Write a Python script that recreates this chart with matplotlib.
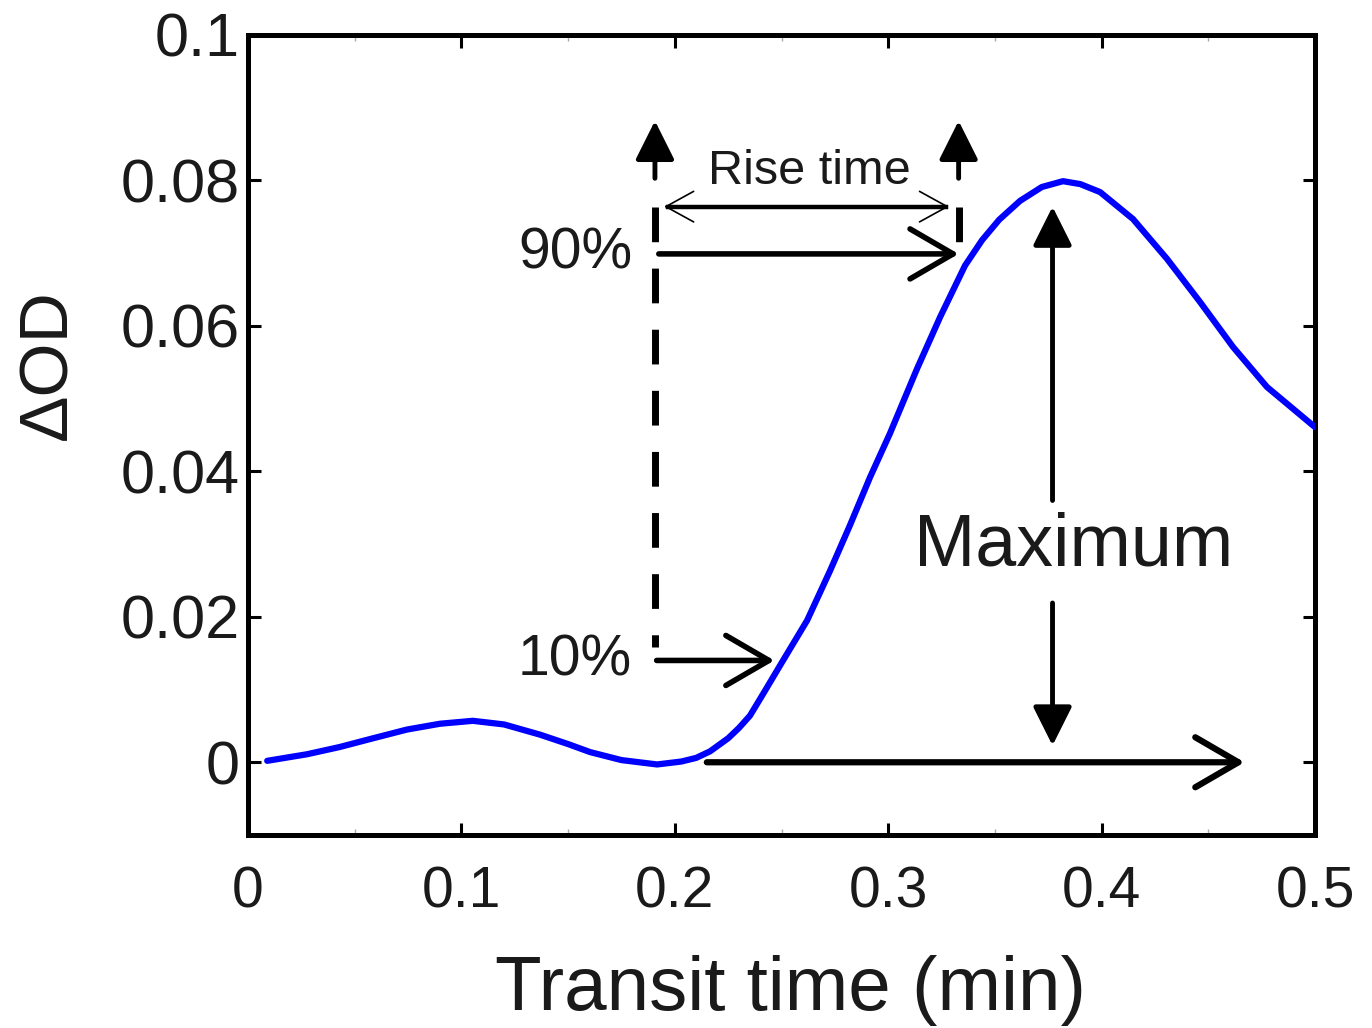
import numpy as np
import matplotlib
matplotlib.use("Agg")
import matplotlib.pyplot as plt

plt.rcParams['font.family'] = ['Liberation Sans', 'DejaVu Sans']

# curve
transit_time = [0.009, 0.0276, 0.043, 0.0586, 0.0745, 0.09, 0.1054, 0.12, 0.1368, 0.15,
                0.1603, 0.175, 0.1917, 0.203, 0.21, 0.2165, 0.225, 0.23, 0.2352, 0.242,
                0.2493, 0.262, 0.2727, 0.2821, 0.2915, 0.3008, 0.3135, 0.3243, 0.336, 0.344,
                0.352, 0.3618, 0.372, 0.3819, 0.39, 0.3993, 0.4147, 0.4307, 0.4461, 0.4616,
                0.4775, 0.4991, 0.5]
delta_od = [0.0002, 0.0011, 0.0021, 0.0033, 0.0045, 0.0053, 0.0057, 0.0052, 0.0038, 0.0025,
            0.0014, 0.0003, -0.0003, 0.0001, 0.0006, 0.0015, 0.0033, 0.0047, 0.0064, 0.0097,
            0.0133, 0.0195, 0.0263, 0.0326, 0.0392, 0.0452, 0.0541, 0.0612, 0.0683, 0.0718,
            0.0746, 0.0772, 0.0791, 0.0799, 0.0795, 0.0784, 0.0747, 0.0692, 0.0633, 0.0571,
            0.0516, 0.0463, 0.0461]

x_ticks = [0, 0.1, 0.2, 0.3, 0.4, 0.5]
x_tick_labels = ['0', '0.1', '0.2', '0.3', '0.4', '0.5']
y_ticks = [0, 0.02, 0.04, 0.06, 0.08, 0.1]
y_tick_labels = ['0', '0.02', '0.04', '0.06', '0.08', '0.1']

# annotation levels
t10, t90 = 0.1907, 0.333
y10, y90 = 0.014, 0.0699
y_rise = 0.0764
x_max = 0.377

fig = plt.figure(figsize=(13.72, 10.28), dpi=100)
ax = fig.add_axes([248 / 1372, 1 - 835 / 1028, (1315 - 248) / 1372, (835 - 35) / 1028])

ax.plot(transit_time, delta_od, color='#0000ff', lw=4.5, solid_capstyle='round',
        solid_joinstyle='round', zorder=3)

ax.set_xlim(0, 0.5)
ax.set_ylim(-0.01, 0.1)
ax.set_xticks(x_ticks)
ax.set_xticklabels(x_tick_labels, fontsize=41, color='#1a1a1a')
ax.set_yticks(y_ticks)
ax.set_yticklabels(y_tick_labels, fontsize=44, color='#1a1a1a')
ax.set_xticks(np.arange(0.05, 0.5, 0.1), minor=True)
ax.tick_params(which='major', direction='in', length=9, width=2.2, top=True, right=True)
ax.tick_params(axis='x', which='major', pad=22)
ax.tick_params(axis='y', which='major', pad=6)
ax.tick_params(which='minor', direction='in', length=4, width=1, color='#aaaaaa',
               top=True, right=False)
for s in ax.spines.values():
    s.set_linewidth(3.6)

ax.set_xlabel('Transit time (min)', fontsize=55, va='top', color='#1a1a1a')
ax.xaxis.set_label_coords(0.508, -0.15)
ax.set_ylabel('ΔOD', fontsize=50, color='#1a1a1a')
ax.yaxis.set_label_coords(-0.157, 0.5875)

# dashed markers at 10% and 90% times
ax.plot([t10, t10], [y_rise, 0.0158], color='k', lw=5, linestyle=(0, (5, 3.8)))
ax.plot([t90, t90], [y_rise, y90 + 0.0005], color='k', lw=5, linestyle=(0, (5, 3.8)))


def arrow(tail, tip, style, lw):
    ax.annotate('', xy=tip, xytext=tail,
                arrowprops=dict(arrowstyle=style, lw=lw, color='k', fc='k',
                                shrinkA=0, shrinkB=0, mutation_scale=10))


open_head = '->,head_length=3.1,head_width=1.8'
filled_head = '-|>,head_length=2.4,head_width=1.2'

arrow((t10, 0.0803), (t10, 0.0882), filled_head, 3.5)
arrow((t90, 0.0803), (t90, 0.0882), filled_head, 3.5)

# rise time double arrow
ax.plot([0.197, 0.327], [y_rise, y_rise], color='k', lw=3.2)
arrow((0.195, y_rise), (0.3285, y_rise), '<->,head_length=2.0,head_width=1.1', 1.2)
ax.text(0.263, 0.0812, 'Rise time', fontsize=35, ha='center', va='center', color='#1a1a1a')

arrow((0.1925, y90), (t90, y90), open_head, 4)
arrow((0.1915, y10), (0.2467, y10), open_head, 4)
ax.text(0.18, y90, '90%', fontsize=41, ha='right', va='center', color='#1a1a1a')
ax.text(0.18, y10, '10%', fontsize=41, ha='right', va='center', color='#1a1a1a')

arrow((0.215, 0.0), (0.467, 0.0), open_head, 4.5)

# maximum amplitude
arrow((x_max, 0.036), (x_max, 0.0764), filled_head, 3.5)
arrow((x_max, 0.0219), (x_max, 0.0023), filled_head, 3.5)
ax.text(0.387, 0.0297, 'Maximum', fontsize=53, ha='center', va='center', color='#1a1a1a')

fig.savefig('out.png', dpi=100)
